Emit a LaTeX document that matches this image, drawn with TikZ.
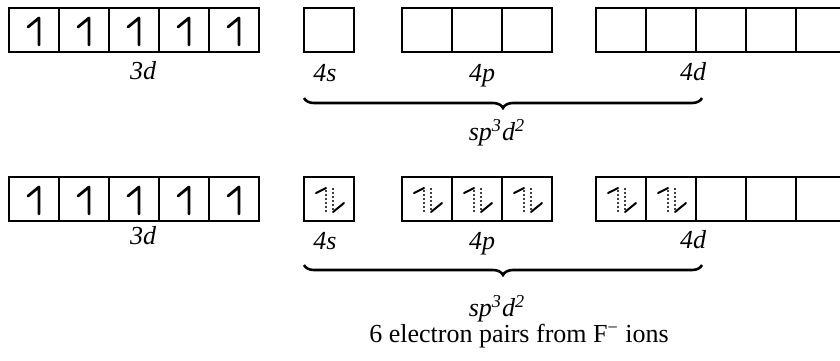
\documentclass[tikz,border=0pt]{standalone}
\usepackage{fontspec}
\setmainfont{Liberation Serif}
\usetikzlibrary{positioning}
\usetikzlibrary{decorations.pathreplacing}
\tikzstyle{orb} = [rectangle, draw=black, line width=1pt,
minimum width=25pt,
minimum height=22pt,
inner sep=0pt, outer sep=0pt]
\tikzstyle{lbl} = [font=\fontsize{13}{15}\selectfont\itshape, anchor=base]
\tikzstyle{txt} = [font=\fontsize{13}{15}\selectfont, anchor=base]
\tikzstyle{brc} = [decorate, decoration={brace, mirror, amplitude=5pt}, line width=1.3pt]
\tikzset{
  spinup/.pic={\draw[line width=1.4pt, line cap=round, line join=round] (5,15) -- (5,-12) -- (-6,-3);},
  epair/.pic={
    \draw[line width=1pt, densely dotted, black!75] (-3,13) -- (-3,-11);
    \draw[line width=1pt, densely dotted, black!75] (4,-11) -- (4,13);
    \draw[line width=1pt, line cap=round] (-3,-11) -- (-13,-6);
    \draw[line width=1pt, line cap=round] (4,13) -- (15,4);}
}
\begin{document}
\begin{tikzpicture}[x=0.5pt, y=-0.5pt]
  \useasboundingbox (0,0) rectangle (840,360);
  \clip (0,0) rectangle (840,360);
  % free atom
  \node (t3d1) [orb] at (34,30) {};
  \node (t3d2) [orb, right=0pt of t3d1] {};
  \node (t3d3) [orb, right=0pt of t3d2] {};
  \node (t3d4) [orb, right=0pt of t3d3] {};
  \node (t3d5) [orb, right=0pt of t3d4] {};
  \node (t4s) [orb] at (329,30) {};
  \node (t4p1) [orb] at (427,30) {};
  \node (t4p2) [orb, right=0pt of t4p1] {};
  \node (t4p3) [orb, right=0pt of t4p2] {};
  \node (t4d1) [orb] at (621,30) {};
  \node (t4d2) [orb, right=0pt of t4d1] {};
  \node (t4d3) [orb, right=0pt of t4d2] {};
  \node (t4d4) [orb, right=0pt of t4d3] {};
  \node (t4d5) [orb, right=0pt of t4d4] {};
  \pic at (t3d1) {spinup};
  \pic at (t3d2) {spinup};
  \pic at (t3d3) {spinup};
  \pic at (t3d4) {spinup};
  \pic at (t3d5) {spinup};
  \node (tl3d) [lbl] at (143,79) {3d};
  \node (tl4s) [lbl] at (325,81) {4s};
  \node (tl4p) [lbl] at (482,81) {4p};
  \node (tl4d) [lbl] at (693,80) {4d};
  \draw [brc] ([yshift=-23pt]t4s.south west) -- ([xshift=3pt, yshift=-23pt]t4d2.south east);
  \node (thyb) [lbl] at (497,140) {sp\textsuperscript{3}d\textsuperscript{2}};

  % in the complex
  \node (b3d1) [orb] at (34,199) {};
  \node (b3d2) [orb, right=0pt of b3d1] {};
  \node (b3d3) [orb, right=0pt of b3d2] {};
  \node (b3d4) [orb, right=0pt of b3d3] {};
  \node (b3d5) [orb, right=0pt of b3d4] {};
  \node (b4s) [orb] at (329,199) {};
  \node (b4p1) [orb] at (427,199) {};
  \node (b4p2) [orb, right=0pt of b4p1] {};
  \node (b4p3) [orb, right=0pt of b4p2] {};
  \node (b4d1) [orb] at (621,199) {};
  \node (b4d2) [orb, right=0pt of b4d1] {};
  \node (b4d3) [orb, right=0pt of b4d2] {};
  \node (b4d4) [orb, right=0pt of b4d3] {};
  \node (b4d5) [orb, right=0pt of b4d4] {};
  \pic at (b3d1) {spinup};
  \pic at (b3d2) {spinup};
  \pic at (b3d3) {spinup};
  \pic at (b3d4) {spinup};
  \pic at (b3d5) {spinup};
  \pic at (b4s) {epair};
  \pic at (b4p1) {epair};
  \pic at (b4p2) {epair};
  \pic at (b4p3) {epair};
  \pic at (b4d1) {epair};
  \pic at (b4d2) {epair};
  \node (bl3d) [lbl] at (143,244) {3d};
  \node (bl4s) [lbl] at (325,249) {4s};
  \node (bl4p) [lbl] at (482,249) {4p};
  \node (bl4d) [lbl] at (693,248) {4d};
  \draw [brc] ([yshift=-22pt]b4s.south west) -- ([xshift=3pt, yshift=-22pt]b4d2.south east);
  \node (bhyb) [lbl] at (497,316) {sp\textsuperscript{3}d\textsuperscript{2}};
  \node (bnote) [txt] at (519,342) {6 electron pairs from F\textsuperscript{−} ions};
\end{tikzpicture}
\end{document}
